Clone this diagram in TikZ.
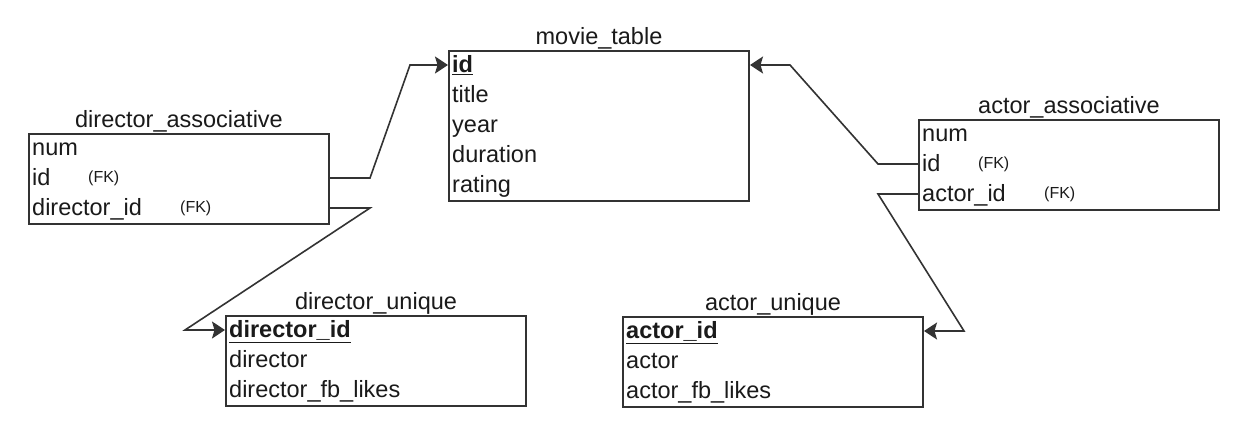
\documentclass[tikz,border=0pt]{standalone}
\usepackage{fontspec}
\setmainfont{Liberation Sans}
\usetikzlibrary{positioning,arrows.meta}
\definecolor{linegray}{HTML}{333333}
\definecolor{textgray}{HTML}{1A1A1A}

\begin{document}
\begin{tikzpicture}[
  x=1pt, y=-1pt,
  tablebox/.style={rectangle, draw=linegray, line width=2pt, minimum width=300pt, anchor=north west, inner sep=0pt},
  tabletitle/.style={above=1pt of #1, inner sep=0pt, text depth=4pt, text=textgray, font=\fontsize{23.5}{26}\selectfont},
  row/.style={anchor=west, inner sep=0pt, text height=18pt, text depth=3pt, text=textgray, font=\fontsize{23.5}{26}\selectfont},
  fklabel/.style={anchor=west, inner sep=0pt, text=textgray, font=\fontsize{16}{18}\selectfont},
  fk/.style={draw=linegray, line width=1.6pt, -{Stealth[length=13pt,width=17pt,inset=2.5pt]}},
  ]

\path[use as bounding box, fill=white] (0,0) rectangle (1246,436);

% tables
\node[tablebox, minimum height=150pt] (mt) at (448,50) {};
\node[tabletitle=mt] (mt-title) {movie\_table};
\foreach \txt [count=\i] in {\underline{\textbf{id}}, title, year, duration, rating}
  \node[row] (mt-\i) at (452,35+30*\i) {\txt};

\node[tablebox, minimum height=90pt] (dA) at (28,133) {};
\node[tabletitle=dA] (dA-title) {director\_associative};
\foreach \txt [count=\i] in {num, id, director\_id}
  \node[row] (dA-\i) at (32,118+30*\i) {\txt};
\node[fklabel] (dA-fk2) at (88,178) {(FK)};
\node[fklabel] (dA-fk3) at (180,208) {(FK)};

\node[tablebox, minimum height=90pt] (aA) at (918,119) {};
\node[tabletitle=aA] (aA-title) {actor\_associative};
\foreach \txt [count=\i] in {num, id, actor\_id}
  \node[row] (aA-\i) at (922,104+30*\i) {\txt};
\node[fklabel] (aA-fk2) at (978,164) {(FK)};
\node[fklabel] (aA-fk3) at (1044,194) {(FK)};

\node[tablebox, minimum height=90pt] (dU) at (225,315) {};
\node[tabletitle=dU] (dU-title) {director\_unique};
\foreach \txt [count=\i] in {\underline{\textbf{director\_id}}, director, director\_fb\_likes}
  \node[row] (dU-\i) at (229,300+30*\i) {\txt};

\node[tablebox, minimum height=90pt] (aU) at (622,316) {};
\node[tabletitle=aU] (aU-title) {actor\_unique};
\foreach \txt [count=\i] in {\underline{\textbf{actor\_id}}, actor, actor\_fb\_likes}
  \node[row] (aU-\i) at (626,301+30*\i) {\txt};

% foreign keys
\draw[fk] (dA-2 -| dA.east) -- ++(40,0) -- ([xshift=-38pt]mt-1 -| mt.west) -- (mt-1 -| mt.west);
\draw[fk] (dA-3 -| dA.east) -- ++(40,0) -- ([xshift=-40pt]dU-1 -| dU.west) -- (dU-1 -| dU.west);
\draw[fk] (aA-2 -| aA.west) -- ++(-40,0) -- ([xshift=40pt]mt-1 -| mt.east) -- (mt-1 -| mt.east);
\draw[fk] (aA-3 -| aA.west) -- ++(-40,0) -- ([xshift=40pt]aU-1 -| aU.east) -- (aU-1 -| aU.east);

\end{tikzpicture}
\end{document}
